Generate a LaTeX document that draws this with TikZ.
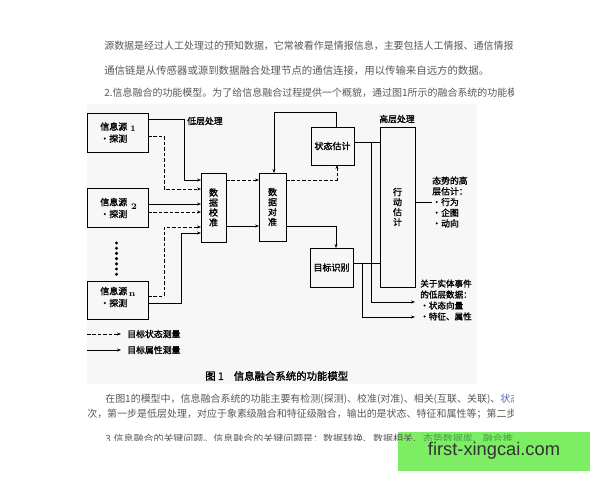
\documentclass[tikz,border=0pt]{standalone}
\usepackage{fontspec}
\usetikzlibrary{arrows.meta,positioning,calc}
\newfontfamily\cjk{Noto Sans CJK SC}
\newfontfamily\cjkb{Noto Sans CJK SC}[FakeBold=1.5]
\newfontfamily\wmfont{Liberation Sans}
\definecolor{wmgreen}{RGB}{125,237,100}
\definecolor{linkblue}{RGB}{80,110,170}
\definecolor{linkgreen}{RGB}{70,160,70}

\begin{document}
\begin{tikzpicture}[x=0.25mm,y=-0.25mm,
    box/.style={draw,line width=0.7pt,inner sep=0pt,outer sep=0pt,align=center,font=\cjkb\fontsize{6.4}{7.1}\selectfont},
    srcbox/.style={box,minimum width=15.25mm,minimum height=9.75mm},
    srctext/.style={anchor=west,inner sep=0pt,align=left,font=\cjkb\fontsize{6.4}{8.5}\selectfont},
    srcnum/.style={inner sep=0pt,font=\bfseries\fontsize{6}{7}\selectfont},
    note/.style={inner sep=0pt,align=left,font=\cjkb\fontsize{6.3}{7.6}\selectfont},
    para/.style={anchor=west,inner sep=0pt,font=\cjk\fontsize{7.1}{9}\selectfont,text=black!65},
    solidline/.style={line width=0.65pt},
    dashline/.style={line width=0.65pt,dash pattern=on 2.5pt off 1.4pt},
    tip/.style={-{Stealth[length=2.8pt,width=2.2pt]}}]

    \useasboundingbox (0,0) rectangle (600,480);
    \fill[white] (0,0) rectangle (600,480);
    \fill[black!3] (87,104) rectangle (477,384);

    % text above and below the figure
    \begin{scope}
    \clip (85,0) rectangle (513,440);
    \node[para] (line1) at (104,46) {源数据是经过人工处理过的预知数据，它常被看作是情报信息，主要包括人工情报、通信情报};
    \node[para,font=\cjk\fontsize{7.4}{9}\selectfont] (line2) at (104,71) {通信链是从传感器或源到数据融合处理节点的通信连接，用以传输来自远方的数据。};
    \node[para] (line3) at (104,93) {2.信息融合的功能模型。为了给信息融合过程提供一个概貌，通过图1所示的融合系统的功能模型};
    \node[para] (line4) at (105,399) {在图1的模型中，信息融合系统的功能主要有检测(探测)、校准(对准)、相关(互联、关联)、\textcolor{linkblue}{状态估计}};
    \node[para] (line5) at (87,414) {次，第一步是低层处理，对应于象素级融合和特征级融合，输出的是状态、特征和属性等；第二步};
    \end{scope}

    % sources
    \node[srcbox] (src1) at (117.5,132.5) {};
    \node[srcbox] (src2) at (117.5,208) {};
    \node[srcbox,minimum height=9.5mm] (srcn) at (117.5,300) {};
    \node[srctext] (src1txt) at (100,132.5) {信息源\\·探测};
    \node[srctext] (src2txt) at (100,208) {信息源\\·探测};
    \node[srctext] (srcntxt) at (100,297) {信息源\\·探测};
    \node[srcnum] (src1num) at (133,129) {1};
    \node[srcnum] (src2num) at (134,207) {2};
    \node[srcnum] (srcnnum) at (132,295) {n};
    \foreach \k in {0,...,6}
    \fill (116.5,243+5.2*\k) circle (1.7);

    % processing boxes
    \node[box,minimum width=6.25mm,minimum height=17.25mm] (calib) at (213.5,207.5) {数\\据\\校\\准};
    \node[box,minimum width=6.75mm,minimum height=17mm] (align) at (272.5,207) {数\\据\\对\\准};
    \node[box,minimum width=10.75mm,minimum height=9.5mm] (state) at (332.5,146) {状态估计};
    \node[box,minimum width=10.75mm,minimum height=9.75mm] (ident) at (331.5,267.5) {目标识别};
    \node[box,minimum width=8.75mm,minimum height=40mm] (action) at (397.5,207) {行\\动\\估\\计};

    \node[note] (lowlabel) at (205,121) {低层处理};
    \node[note] (highlabel) at (397,119) {高层处理};
    \node[note,anchor=west] (sitlabel) at (432,202) {态势的高\\层估计：\\·行为\\·企图\\·动向};
    \node[note,anchor=west,font=\cjkb\fontsize{6.1}{7.8}\selectfont] (entlabel) at (420,300) {关于实体事件\\的低层数据：\\·状态向量\\·特征、属性};

    % sources to calibration
    \draw[solidline,tip] ($(src1.east)+(0,-13.5)$) -| (184,180) -- ($(calib.west)+(0,-27.5)$);
    \draw[dashline,tip] ($(src1.east)+(0,3.5)$) -| (164,189) -- ($(calib.west)+(0,-18.5)$);
    \draw[solidline,tip] ($(src2.east)+(0,-4)$) -- ($(calib.west)+(0,-3.5)$);
    \draw[dashline,tip] ($(src2.east)+(0,4)$) -- ($(calib.west)+(0,4.5)$);
    \draw[dashline,tip] ($(srcn.east)+(0,-4)$) -| (164,227) -- ($(calib.west)+(0,19.5)$);
    \draw[solidline,tip] ($(srcn.east)+(0,3)$) -| (181,233) -- ($(calib.west)+(0,25.5)$);

    % calibration, alignment, estimation
    \draw[dashline,tip] ($(calib.east)+(0,-27.5)$) -- ($(align.west)+(0,-27)$);
    \draw[solidline,tip] ($(calib.east)+(0,18.5)$) -- ($(align.west)+(0,19)$);
    \draw[dashline,tip] ($(align.east)+(0,-27)$) -| ($(state.south)+(4.5,0)$);
    \draw[solidline,tip] ($(state.north)+(3.5,0)$) |- (274,112) -- ($(align.north)+(1.5,0)$);
    \draw[solidline,tip] ($(align.east)+(0,19)$) -| ($(ident.north)+(4.5,0)$);

    % into high level and outputs
    \coordinate (stateout) at ($(state.east)+(0,-4)$);
    \coordinate (identout) at ($(ident.east)+(0,-4.5)$);
    \coordinate (statebr) at ($(stateout)+(17,0)$);
    \coordinate (identbr) at ($(identout)+(9,0)$);
    \draw[solidline] (stateout) -- (stateout -| action.west);
    \draw[solidline] (identout) -- (identout -| action.west);
    \draw[solidline,tip] (statebr) |- ($(action.south east)+(0,15)$);
    \draw[solidline,tip] (identbr) |- ($(action.south east)+(0,30)$);
    \draw[solidline] (action.east |- sitlabel.west) -- (sitlabel.west);

    % legend
    \coordinate (legdash) at (87,334);
    \coordinate (legsolid) at (87,350);
    \node[note,anchor=west] (legstate) at (127,334) {目标状态测量};
    \node[note,anchor=west] (legattr) at (127,350) {目标属性测量};
    \draw[dashline,tip] (legdash) -- ($(legstate.west)+(-6,0)$);
    \draw[solidline,tip] (legsolid) -- ($(legattr.west)+(-6,0)$);

    \node[anchor=west,inner sep=0pt,font=\cjkb\fontsize{7.4}{9}\selectfont] (caption) at (205,376) {图 1\hspace{2.5mm}信息融合系统的功能模型};

    % watermark, last line half hidden
    \node[fill=wmgreen,minimum width=48mm,minimum height=9.75mm,inner sep=0pt,font=\wmfont\fontsize{13}{15}\selectfont,text=black!80] (wm) at (494,451) {first-xingcai.com};
    \begin{scope}
    \clip (85,0) rectangle (513,440);
    \node[para] (line6) at (105,439) {3.信息融合的关键问题。信息融合的关键问题是：数据转换、数据相关、\textcolor{linkgreen}{态势数据库、融合推理}};
    \end{scope}
\end{tikzpicture}
\end{document}
